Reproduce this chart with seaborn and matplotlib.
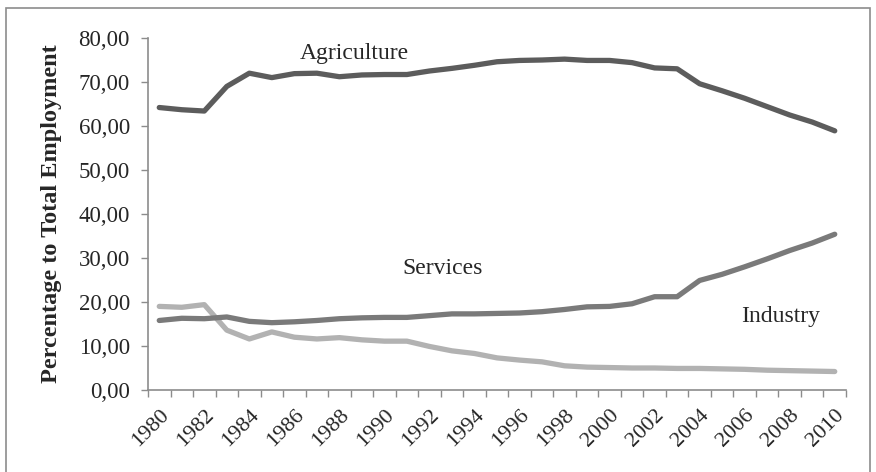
import numpy as np
import pandas as pd
import matplotlib
matplotlib.use("Agg")
import matplotlib.pyplot as plt
import seaborn as sns
from matplotlib.patches import Rectangle
from matplotlib.ticker import FixedLocator, FuncFormatter

years = list(range(1980, 2011))
agriculture = [64.2, 63.7, 63.4, 69.0, 72.0, 71.0, 71.9, 72.0, 71.2, 71.6,
               71.7, 71.7, 72.5, 73.1, 73.8, 74.6, 74.9, 75.0, 75.2, 74.9,
               74.9, 74.4, 73.2, 73.0, 69.6, 68.0, 66.3, 64.4, 62.5, 60.9, 58.9]
services = [15.8, 16.3, 16.2, 16.6, 15.6, 15.3, 15.5, 15.8, 16.2, 16.4,
            16.5, 16.5, 16.9, 17.3, 17.3, 17.4, 17.5, 17.8, 18.3, 18.9,
            19.0, 19.6, 21.2, 21.2, 24.9, 26.3, 28.0, 29.8, 31.7, 33.4, 35.4]
industry = [19.0, 18.8, 19.4, 13.6, 11.6, 13.2, 12.0, 11.6, 11.9, 11.4,
            11.1, 11.1, 9.9, 8.9, 8.3, 7.3, 6.8, 6.4, 5.5, 5.2,
            5.1, 5.0, 5.0, 4.9, 4.9, 4.8, 4.7, 4.5, 4.4, 4.3, 4.2]

sns.set_style("white")
plt.rcParams['font.family'] = ['Liberation Serif', 'DejaVu Serif']

fig = plt.figure(figsize=(8.76, 4.72), dpi=100)
ax = fig.add_axes([148 / 876, 1 - 390 / 472, 698 / 876, 352 / 472])

# outer chart border (bottom edge runs off the picture)
fig.patches.append(Rectangle((6 / 876, -0.1), 864 / 876, 1.1 - 8 / 472,
                             transform=fig.transFigure, fill=False,
                             edgecolor="#8c8c8c", linewidth=1.2))

pos = np.arange(len(years))
df = pd.DataFrame({"pos": pos, "Agriculture": agriculture,
                   "Services": services, "Industry": industry})

sns.lineplot(data=df, x="pos", y="Industry", ax=ax, color="#b2b2b2", linewidth=3.8)
sns.lineplot(data=df, x="pos", y="Services", ax=ax, color="#7a7a7a", linewidth=3.8)
sns.lineplot(data=df, x="pos", y="Agriculture", ax=ax, color="#5c5c5c", linewidth=3.8)
for l in ax.lines:
    l.set_solid_capstyle("round")
    l.set_solid_joinstyle("round")

ax.set_xlim(-0.5, len(years) - 0.5)
ax.set_ylim(0, 80)
ax.set_yticks(np.arange(0, 81, 10))
ax.yaxis.set_major_formatter(FuncFormatter(lambda v, p: f"{v:.2f}".replace(".", ",")))

# category axis: tick marks between categories, labels on every other year
ax.xaxis.set_major_locator(FixedLocator(pos[::2]))
ax.set_xticklabels([str(y) for y in years[::2]], rotation=45, ha="right",
                   rotation_mode="anchor")
ax.xaxis.set_minor_locator(FixedLocator(np.arange(-0.5, len(years), 1)))
ax.tick_params(axis="x", which="major", length=0, labelsize=16, pad=11)
ax.tick_params(axis="x", which="minor", length=5, color="#8c8c8c", width=1)
ax.tick_params(axis="y", length=5, color="#8c8c8c", width=1, labelsize=16.5, pad=8)
ax.tick_params(axis="both", direction="out")
ax.xaxis.set_ticks_position("bottom")
ax.yaxis.set_ticks_position("left")

for s in ["top", "right"]:
    ax.spines[s].set_visible(False)
for s in ["left", "bottom"]:
    ax.spines[s].set_color("#8c8c8c")
    ax.spines[s].set_linewidth(1.2)

ax.set_xlabel("")
ax.set_ylabel("Percentage to Total Employment", fontsize=17.5, fontweight="bold")
ax.yaxis.set_label_coords(-0.123, 0.5)

ax.text(6.25, 76.5, "Agriculture", fontsize=17, va="center")
ax.text(10.8, 27.6, "Services", fontsize=17, va="center")
ax.text(25.85, 16.6, "Industry", fontsize=17, va="center")

fig.savefig("out.png", dpi=100)
